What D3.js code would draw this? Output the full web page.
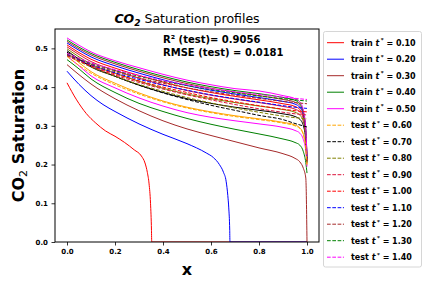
<!DOCTYPE html>
<html>
<head>
<meta charset="utf-8">
<script src="https://cdn.jsdelivr.net/npm/d3@7"></script>
<style>
  body { margin: 0; background: #fff; }
  text { font-family: "DejaVu Sans", sans-serif; }
</style>
</head>
<body>
<div class="chart"></div>
<script>
// time labels and colours for each profile
var times = ["0.10", "0.20", "0.30", "0.40", "0.50", "0.60", "0.70",
  "0.80", "0.90", "1.00", "1.10", "1.20", "1.30", "1.40"];
var colors = ["red", "blue", "brown", "green", "magenta", "orange", "black",
  "olive", "crimson", "red", "blue", "brown", "green", "magenta"];

// x positions for the profiles that reach the outlet
var xGrid = [0, 0.05, 0.1, 0.2, 0.3, 0.4, 0.5, 0.6, 0.7, 0.8, 0.9, 0.95, 0.97, 0.985, 0.995, 1.0];
// x positions for the predicted (dashed) profiles
var xPred = [0, 0.1, 0.2, 0.3, 0.4, 0.5, 0.6, 0.7, 0.8, 0.9, 0.95, 1.0];

// t* = 0.10 and 0.20, front inside the domain
var xRed = [0, 0.04, 0.08, 0.12, 0.16, 0.2, 0.24, 0.28, 0.31, 0.325, 0.335, 0.342, 0.348, 0.352, 0.353, 1.0];
var sRed = [0.411, 0.367, 0.332, 0.307, 0.287, 0.273, 0.257, 0.238, 0.222, 0.204, 0.179, 0.15, 0.1, 0.03, 0, 0];
var xBlue = [0, 0.05, 0.1, 0.15, 0.2, 0.3, 0.4, 0.5, 0.58, 0.61, 0.635, 0.652, 0.663, 0.67, 0.674, 0.678, 0.679, 1.0];
var sBlue = [0.441, 0.407, 0.378, 0.355, 0.337, 0.305, 0.278, 0.254, 0.23, 0.218, 0.2, 0.18, 0.157, 0.12, 0.088, 0.03, 0, 0];

// reference profiles on xGrid
var s030 = [0.458, 0.432, 0.408, 0.370, 0.339, 0.313, 0.292, 0.275, 0.259, 0.243, 0.228, 0.216, 0.207, 0.190, 0.165, 0.0];
var s040 = [0.471, 0.447, 0.421, 0.386, 0.358, 0.337, 0.319, 0.304, 0.291, 0.279, 0.266, 0.257, 0.250, 0.233, 0.205, 0.178];
var s050 = [0.480, 0.455, 0.429, 0.398, 0.372, 0.351, 0.334, 0.322, 0.313, 0.305, 0.296, 0.288, 0.281, 0.264, 0.235, 0.195];
var s060 = [0.488, 0.463, 0.440, 0.410, 0.385, 0.364, 0.348, 0.336, 0.326, 0.318, 0.309, 0.302, 0.295, 0.278, 0.245, 0.200];
var s070 = [0.494, 0.472, 0.452, 0.428, 0.405, 0.386, 0.370, 0.358, 0.348, 0.340, 0.331, 0.324, 0.317, 0.300, 0.260, 0.205];
var s080 = [0.499, 0.478, 0.459, 0.436, 0.415, 0.397, 0.382, 0.370, 0.360, 0.351, 0.342, 0.335, 0.328, 0.310, 0.268, 0.208];
var s090 = [0.504, 0.484, 0.466, 0.443, 0.423, 0.406, 0.391, 0.379, 0.369, 0.360, 0.350, 0.343, 0.336, 0.317, 0.274, 0.210];
var s100 = [0.509, 0.489, 0.472, 0.449, 0.430, 0.413, 0.398, 0.386, 0.376, 0.367, 0.357, 0.350, 0.342, 0.323, 0.279, 0.212];
var s110 = [0.514, 0.495, 0.478, 0.455, 0.436, 0.419, 0.404, 0.392, 0.382, 0.373, 0.363, 0.356, 0.348, 0.328, 0.283, 0.214];
var s120 = [0.518, 0.499, 0.483, 0.460, 0.441, 0.424, 0.409, 0.397, 0.387, 0.378, 0.368, 0.361, 0.353, 0.332, 0.286, 0.216];
var s130 = [0.522, 0.503, 0.487, 0.464, 0.445, 0.428, 0.413, 0.401, 0.391, 0.383, 0.373, 0.366, 0.357, 0.336, 0.289, 0.218];
var s140 = [0.527, 0.508, 0.491, 0.468, 0.450, 0.433, 0.418, 0.406, 0.396, 0.390, 0.378, 0.370, 0.362, 0.340, 0.292, 0.220];

// predicted test profiles
var p060 = [0.479, 0.456, 0.436, 0.406, 0.382, 0.362, 0.346, 0.334, 0.324, 0.316, 0.307, 0.300, 0.293, 0.276, 0.243, 0.200];
var p070 = [0.490, 0.455, 0.428, 0.405, 0.385, 0.368, 0.353, 0.340, 0.327, 0.316, 0.306, 0.297];
var p080 = [0.481, 0.452, 0.428, 0.407, 0.389, 0.373, 0.359, 0.346, 0.335, 0.325, 0.321, 0.318];
var p090 = [0.482, 0.454, 0.431, 0.412, 0.395, 0.380, 0.367, 0.355, 0.344, 0.335, 0.331, 0.328];
var p100 = [0.483, 0.456, 0.434, 0.416, 0.400, 0.386, 0.373, 0.362, 0.352, 0.343, 0.339, 0.336];
var p110 = [0.484, 0.458, 0.437, 0.420, 0.405, 0.392, 0.380, 0.370, 0.361, 0.352, 0.348, 0.345];
var p120 = [0.485, 0.460, 0.440, 0.424, 0.410, 0.398, 0.388, 0.379, 0.371, 0.363, 0.360, 0.357];
var p130 = [0.486, 0.462, 0.443, 0.428, 0.415, 0.404, 0.394, 0.385, 0.377, 0.370, 0.367, 0.364];
var p140 = [0.487, 0.463, 0.445, 0.430, 0.417, 0.406, 0.396, 0.388, 0.381, 0.374, 0.371, 0.368];

var xTicks = [0.0, 0.2, 0.4, 0.6, 0.8, 1.0];
var yTicks = [0.0, 0.1, 0.2, 0.3, 0.4, 0.5];
var r2Text = "R\u00b2 (test)= 0.9056";
var rmseText = "RMSE (test) = 0.0181";

function zip(xs, ys) {
  return xs.map((x, i) => ({ x: x, y: ys[i] }));
}

var solid = [
  zip(xRed, sRed), zip(xBlue, sBlue), zip(xGrid, s030), zip(xGrid, s040),
  zip(xGrid, s050), zip(xGrid, s060), zip(xGrid, s070), zip(xGrid, s080),
  zip(xGrid, s090), zip(xGrid, s100), zip(xGrid, s110), zip(xGrid, s120),
  zip(xGrid, s130), zip(xGrid, s140)
];
var pred = [
  zip(xGrid, p060), zip(xPred, p070), zip(xPred, p080), zip(xPred, p090),
  zip(xPred, p100), zip(xPred, p110), zip(xPred, p120), zip(xPred, p130),
  zip(xPred, p140)
];

var svgWidth = 432, svgHeight = 288;
var margin = { top: 29, right: 113, bottom: 46, left: 55 };
var width = svgWidth - margin.left - margin.right;
var height = svgHeight - margin.top - margin.bottom;

var svg = d3.select(".chart").append("svg")
  .attr("width", svgWidth)
  .attr("height", svgHeight);

var chartGroup = svg.append("g")
  .attr("transform", `translate(${margin.left}, ${margin.top})`);

// scales
var xScale = d3.scaleLinear().domain([-0.05, 1.05]).range([0, width]);
var yScale = d3.scaleLinear().domain([0, 0.55]).range([height, 0]);

chartGroup.append("clipPath").attr("id", "clip")
  .append("rect").attr("width", width).attr("height", height);

var line = d3.line()
  .x(d => xScale(d.x))
  .y(d => yScale(d.y))
  .curve(d3.curveMonotoneX);

var lines = chartGroup.append("g").attr("clip-path", "url(#clip)");

// reference profiles
lines.selectAll(".solid")
  .data(solid)
  .enter()
  .append("path")
  .attr("d", line)
  .attr("fill", "none")
  .attr("stroke", (d, i) => colors[i])
  .attr("stroke-width", 1);

// predictions for the test times
lines.selectAll(".pred")
  .data(pred)
  .enter()
  .append("path")
  .attr("d", line)
  .attr("fill", "none")
  .attr("stroke", (d, i) => colors[i + 5])
  .attr("stroke-width", 1)
  .attr("stroke-dasharray", "3.7,1.6");

// axes
var xAxis = d3.axisBottom(xScale).tickValues(xTicks).tickFormat(d3.format(".1f")).tickSize(3.5).tickPadding(3.5);
var yAxis = d3.axisLeft(yScale).tickValues(yTicks).tickFormat(d3.format(".1f")).tickSize(3.5).tickPadding(3.5);

var gx = chartGroup.append("g").attr("transform", `translate(0, ${height})`).call(xAxis);
var gy = chartGroup.append("g").call(yAxis);
[gx, gy].forEach(g => {
  g.select(".domain").remove();
  g.selectAll("text").attr("font-size", 7).attr("font-weight", "bold")
    .attr("font-family", "DejaVu Sans").attr("fill", "#000");
  g.selectAll("line").attr("stroke", "#000").attr("stroke-width", 0.8);
});

// frame
chartGroup.append("rect")
  .attr("width", width).attr("height", height)
  .attr("fill", "none").attr("stroke", "#000").attr("stroke-width", 1);

// title
var title = svg.append("text")
  .attr("x", margin.left + width / 2).attr("y", 23)
  .attr("text-anchor", "middle").attr("font-size", 12.5);
title.append("tspan").attr("font-weight", "bold").attr("font-style", "italic").text("CO");
title.append("tspan").attr("font-weight", "bold").attr("font-style", "italic")
  .attr("font-size", 9).attr("dy", 2.5).text("2");
title.append("tspan").attr("dy", -2.5).text(" Saturation profiles");

// axis labels
svg.append("text")
  .attr("x", margin.left + width / 2).attr("y", 275)
  .attr("text-anchor", "middle").attr("font-size", 16).attr("font-weight", "bold")
  .text("x");

var ylab = svg.append("text")
  .attr("transform", `translate(24, ${margin.top + height / 2}) rotate(-90)`)
  .attr("text-anchor", "middle").attr("font-size", 16).attr("font-weight", "bold");
ylab.append("tspan").text("CO");
ylab.append("tspan").attr("font-size", 11).attr("font-weight", "normal").attr("dy", 3).text("2");
ylab.append("tspan").attr("dy", -3).text(" Saturation");

// metrics
svg.append("text").attr("x", 163).attr("y", 43)
  .attr("font-size", 10).attr("font-weight", "bold").text(r2Text);
svg.append("text").attr("x", 163).attr("y", 55.5)
  .attr("font-size", 10).attr("font-weight", "bold").text(rmseText);

// legend
var legend = svg.append("g").attr("transform", "translate(323.5, 31.5)");
legend.append("rect")
  .attr("width", 98).attr("height", 235.5).attr("rx", 2)
  .attr("fill", "#fff").attr("fill-opacity", 0.8)
  .attr("stroke", "#d6d6d6").attr("stroke-width", 1);

var rows = legend.selectAll(".row")
  .data(times)
  .enter()
  .append("g")
  .attr("transform", (d, i) => `translate(0, ${11.2 + i * 16.5})`);

rows.append("line")
  .attr("x1", 3.5).attr("x2", 20.5)
  .attr("stroke", (d, i) => colors[i])
  .attr("stroke-width", 1)
  .attr("stroke-dasharray", (d, i) => i < 5 ? null : "3.7,1.6");

var labels = rows.append("text")
  .attr("x", 27.5).attr("y", 3)
  .attr("font-size", 8).attr("font-weight", "bold");
labels.append("tspan").text((d, i) => i < 5 ? "train " : "test ");
labels.append("tspan").attr("font-style", "italic").text("t");
labels.append("tspan").attr("font-size", 5.5).attr("dx", 1.5).attr("dy", -3.5).text("*");
labels.append("tspan").attr("dy", 3.5).text(d => " = " + d);
</script>
</body>
</html>
